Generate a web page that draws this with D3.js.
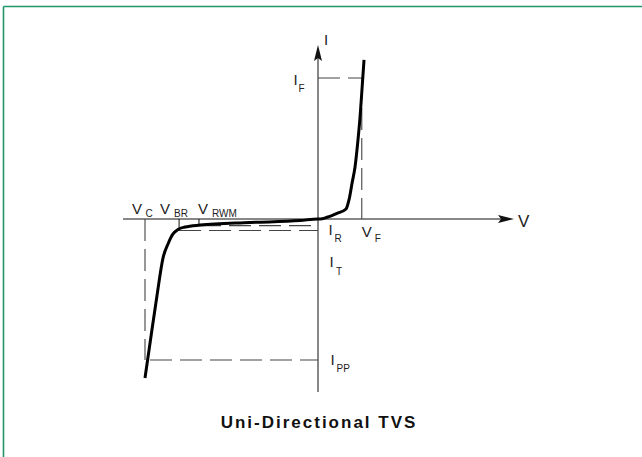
<!DOCTYPE html>
<html>
<head>
<meta charset="utf-8">
<script src="https://cdn.jsdelivr.net/npm/d3@7"></script>
<style>
  html, body { margin: 0; padding: 0; background: #fff; }
  svg { display: block; }
  text { font-family: "Liberation Sans", Arial, sans-serif; fill: #222; }
</style>
</head>
<body>
<script>
// ---- Data (normalized units: V_C = -1, I_PP = -1, I_F = +1) ----
const curveV = [-1.0, -0.965, -0.931, -0.896, -0.867, -0.838, -0.809, -0.769, -0.682, -0.393, -0.104, 0.0,
                0.012, 0.052, 0.110, 0.162, 0.179, 0.197, 0.214, 0.231, 0.243, 0.254, 0.266];
const curveI = [-1.128, -0.830, -0.546, -0.277, -0.177, -0.106, -0.074, -0.057, -0.043, -0.025, -0.011, 0.0,
                0.0, 0.012, 0.040, 0.071, 0.135, 0.255, 0.369, 0.560, 0.723, 0.915, 1.128];
const voltageLabels = ["V", "V", "V", "V"];
const markerNames = ["VC", "VBR", "VRWM", "VF"];
const markerV = [-1.0, -0.803, -0.688, 0.253];
const currentNames = ["IF", "IR", "IT", "IPP"];
const currentI = [1.0, -0.047, -0.082, -1.0];
const axisVRange = [-1.127, 1.133];
const axisIRange = [-1.227, 1.234];
const title = "Uni-Directional TVS";

const W = 642, H = 457;
const svg = d3.select("body").append("svg").attr("width", W).attr("height", H);

// frame (green border top and left)
svg.append("line").attr("x1", 3.5).attr("x2", W).attr("y1", 6.5).attr("y2", 6.5)
  .attr("stroke", "#21966a").attr("stroke-width", 1.6);
svg.append("line").attr("x1", 3.5).attr("x2", 3.5).attr("y1", 6.5).attr("y2", H)
  .attr("stroke", "#21966a").attr("stroke-width", 1.6);

const x = d3.scaleLinear().domain([-1, 1]).range([145, 491]);
const y = d3.scaleLinear().domain([-1, 1]).range([360, 78]);
const x0 = x(0), y0 = y(0);

const axisColor = "#111";
// X axis
svg.append("line").attr("x1", x(axisVRange[0])).attr("x2", x(axisVRange[1]) - 8)
  .attr("y1", y0).attr("y2", y0).attr("stroke", axisColor).attr("stroke-width", 1);
const xt = x(axisVRange[1]);
svg.append("path").attr("d", `M${xt},${y0} L${xt - 16},${y0 - 4} L${xt - 13},${y0} L${xt - 16},${y0 + 4} Z`)
  .attr("fill", axisColor);
// Y axis
svg.append("line").attr("x1", x0).attr("x2", x0)
  .attr("y1", y(axisIRange[0])).attr("y2", y(axisIRange[1]) + 8)
  .attr("stroke", axisColor).attr("stroke-width", 1);
const yt = y(axisIRange[1]);
svg.append("path").attr("d", `M${x0},${yt} L${x0 - 4},${yt + 16} L${x0},${yt + 13} L${x0 + 4},${yt + 16} Z`)
  .attr("fill", axisColor);

const dash = "22,8";
const dashColor = "#444";
function dline(x1, y1, x2, y2) {
  svg.append("line").attr("x1", x1).attr("y1", y1).attr("x2", x2).attr("y2", y2)
    .attr("stroke", dashColor).attr("stroke-width", 1.1).attr("stroke-dasharray", dash);
}
function sline(x1, y1, x2, y2) {
  svg.append("line").attr("x1", x1).attr("y1", y1).attr("x2", x2).attr("y2", y2)
    .attr("stroke", axisColor).attr("stroke-width", 1);
}
const vc = markerV[0], vbr = markerV[1], vrwm = markerV[2], vf = markerV[3];
const iF = currentI[0], iR = currentI[1], iT = currentI[2], ipp = currentI[3];

// I_F horizontal dashed, V_F vertical dashed
dline(x0, y(iF), x(vf), y(iF));
dline(x(vf), y(iF), x(vf), y(0));
// V_C vertical dashed and I_PP horizontal dashed
dline(x(vc), y(0), x(vc), y(ipp));
dline(x(vc) + 5, y(ipp), x0, y(ipp));
// I_R and I_T levels
dline(x(vrwm), y(iR), x0, y(iR));
dline(x(vbr), y(iT), x0, y(iT));
// V_BR, V_RWM solid ticks
sline(x(vbr), y0, x(vbr), y(iT));
sline(x(vrwm), y0, x(vrwm), y(iR));

// characteristic curve
const pts = curveV.map((v, i) => [x(v), y(curveI[i])]);
svg.append("path").attr("d", d3.line().curve(d3.curveMonotoneX)(pts))
  .attr("fill", "none").attr("stroke", "#000").attr("stroke-width", 3)
  .attr("stroke-linecap", "butt").attr("stroke-linejoin", "round");

// Labels with subscripts
function label(main, sub, mx, my, sx, sy) {
  svg.append("text").attr("x", mx).attr("y", my).attr("font-size", 15).text(main);
  if (sub) svg.append("text").attr("x", sx).attr("y", sy).attr("font-size", 10).text(sub);
}
label(voltageLabels[0], "C", x(vc) - 13, y0 - 5, x(vc) + 0.5, y0 - 2.5);
label(voltageLabels[1], "BR", x(vbr) - 19, y0 - 5, x(vbr) - 5, y0 - 2.5);
label(voltageLabels[2], "RWM", x(vrwm) - 1, y0 - 5, x(vrwm) + 13, y0 - 2.5);
label(voltageLabels[3], "F", x(vf), y0 + 18, x(vf) + 13, y0 + 23);
label("I", "F", x0 - 24.5, y(iF) + 7, x0 - 19.5, y(iF) + 14);
label("I", "R", x0 + 10.5, y0 + 16, x0 + 16.5, y0 + 23);
label("I", "T", x0 + 11.5, y0 + 48, x0 + 18, y0 + 56);
label("I", "PP", x0 + 12.5, y(ipp) + 5, x0 + 18.5, y(ipp) + 12);
// axis names
svg.append("text").attr("x", x0 + 6).attr("y", yt + 0).attr("font-size", 15).text("I");
svg.append("text").attr("x", xt + 4).attr("y", y0 + 8).attr("font-size", 17).text("V");

// title
svg.append("text").attr("x", x0 + 1).attr("y", 427.5).attr("text-anchor", "middle")
  .attr("font-size", 17).attr("font-weight", "bold").attr("letter-spacing", 2)
  .style("fill", "#111").text(title);
</script>
</body>
</html>
